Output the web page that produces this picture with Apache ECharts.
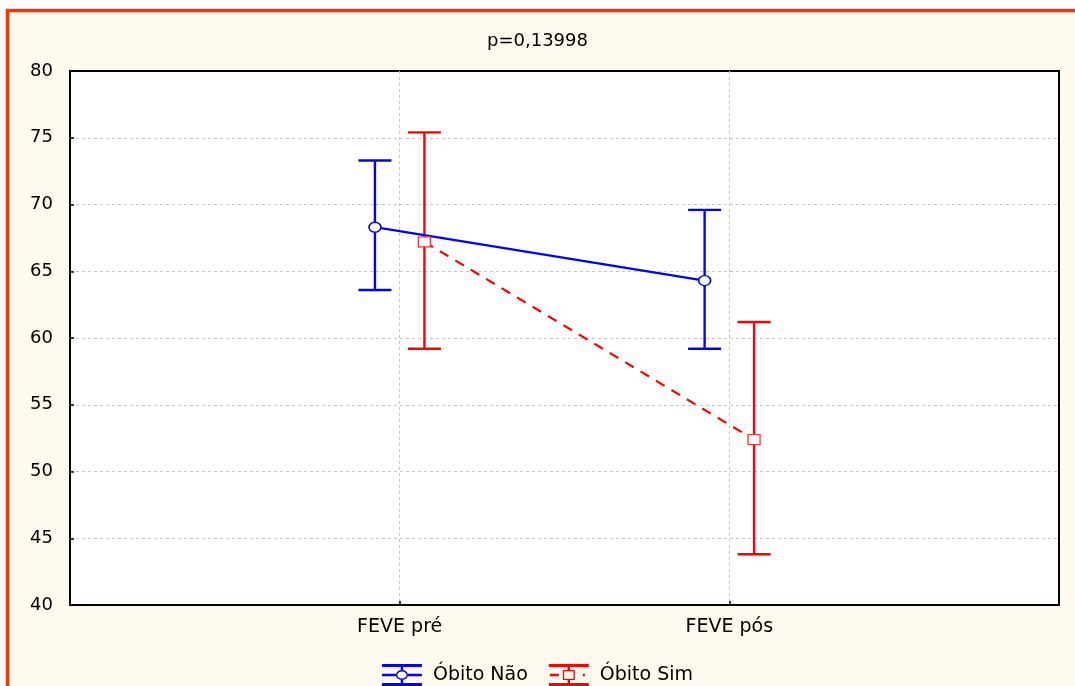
<!DOCTYPE html>
<html>
<head>
<meta charset="utf-8">
<script src="https://cdn.jsdelivr.net/npm/echarts@6/dist/echarts.min.js"></script>
<style>
  html, body { margin: 0; padding: 0; background: #ffffff; }
  #chart { width: 1075px; height: 686px; }
</style>
</head>
<body>
<div id="chart"></div>
<script>
// ---- data ----
const titleText = 'p=0,13998';
const categories = ['FEVE pré', 'FEVE pós'];
const seriesNames = ['Óbito Não', 'Óbito Sim'];
const naoMean = [68.3, 64.3];
const naoLow  = [63.6, 59.2];
const naoHigh = [73.3, 69.6];
const simMean = [67.2, 52.4];
const simLow  = [59.2, 43.8];
const simHigh = [75.4, 61.2];
const yTicks = [40, 45, 50, 55, 60, 65, 70, 75, 80];

// ---- layout / style ----
const OFFSET = 0.075;
const BLUE = '#0000ff';
const RED = '#ff0000';
const FONT = 'DejaVu Sans';

function pts(means, off) {
  return means.map((m, i) => [i + 1 + off, m]);
}
function bars(lows, highs, off) {
  return lows.map((l, i) => [i + 1 + off, l, highs[i]]);
}
function errorRender(color) {
  return function (params, api) {
    const x = api.value(0);
    const pLo = api.coord([x, api.value(1)]);
    const pHi = api.coord([x, api.value(2)]);
    const hw = 16.5;
    const st = { stroke: color, lineWidth: 2.4 };
    return {
      type: 'group',
      children: [
        { type: 'line', shape: { x1: pLo[0], y1: pLo[1], x2: pHi[0], y2: pHi[1] }, style: st },
        { type: 'line', shape: { x1: pHi[0] - hw, y1: pHi[1], x2: pHi[0] + hw, y2: pHi[1] }, style: st },
        { type: 'line', shape: { x1: pLo[0] - hw, y1: pLo[1], x2: pLo[0] + hw, y2: pLo[1] }, style: st }
      ]
    };
  };
}

const blueIcon = 'path://M0,0H40V3H0Z M0,19H40V22H0Z M18.8,3H21.2V6H18.8Z M18.8,16H21.2V19H18.8Z M0,9.8H14V12.2H0Z M26,9.8H40V12.2H26Z ' +
  'M14,11A6,5 0 1,1 26,11A6,5 0 1,1 14,11Z M15.4,11A4.6,3.6 0 1,0 24.6,11A4.6,3.6 0 1,0 15.4,11Z';
const redIcon = 'path://M0,0H40V3H0Z M0,19H40V22H0Z M18.8,3H21.2V6H18.8Z M18.8,16H21.2V19H18.8Z M1,9.8H10V12.2H1Z M34,9.8H36V12.2H34Z ' +
  'M14,6H26V16H14Z M15.3,7.3V14.7H24.7V7.3Z';

const chart = echarts.init(document.getElementById('chart'), null, { renderer: 'canvas' });

const gridLine = { show: true, showMinLine: false, showMaxLine: false,
  lineStyle: { color: '#c4c4c4', type: [3, 3], width: 1 } };

const option = {
  backgroundColor: '#ffffff',
  animation: false,
  graphic: [
    {
      type: 'rect', z: -10, silent: true,
      shape: { x: 7.5, y: 10.5, width: 1100, height: 700 },
      style: { fill: '#fffaf0', stroke: '#ff3300', lineWidth: 3.5 }
    }
  ],
  title: {
    text: titleText,
    left: 'center',
    top: 27,
    textStyle: { fontFamily: FONT, fontSize: 18, fontWeight: 'normal', color: '#000' }
  },
  grid: {
    left: 70, top: 71, right: 16, bottom: 81,
    show: true, backgroundColor: '#ffffff', borderColor: '#000', borderWidth: 2
  },
  legend: {
    data: [
      { name: seriesNames[0], icon: blueIcon, itemStyle: { color: BLUE, borderWidth: 0 } },
      { name: seriesNames[1], icon: redIcon, itemStyle: { color: RED, borderWidth: 0 } }
    ],
    top: 659,
    left: 'center',
    itemWidth: 40,
    itemHeight: 22,
    itemGap: 21,
    textStyle: { fontFamily: FONT, fontSize: 19, color: '#000', padding: [0, 0, 0, 6] }
  },
  xAxis: {
    type: 'value',
    min: 0, max: 3, interval: 1,
    axisLine: { show: false },
    axisTick: { show: true, inside: true, length: 4, lineStyle: { color: '#000', width: 1.5 } },
    axisLabel: {
      margin: 13,
      fontFamily: FONT, fontSize: 19, color: '#000',
      formatter: function (v) { return categories[v - 1] || ''; }
    },
    splitLine: gridLine
  },
  yAxis: {
    type: 'value',
    min: 40, max: 80, interval: 5,
    axisLine: { show: false },
    axisTick: { show: true, inside: true, length: 4, lineStyle: { color: '#000', width: 1.5 } },
    axisLabel: {
      margin: 17,
      fontFamily: FONT, fontSize: 18, color: '#000',
      formatter: function (v) { return yTicks.indexOf(v) >= 0 ? String(v) : ''; }
    },
    splitLine: gridLine
  },
  series: [
    {
      type: 'custom', name: 'errNao', z: 2,
      renderItem: errorRender(BLUE),
      data: bars(naoLow, naoHigh, -OFFSET),
      encode: { x: 0, y: [1, 2] }
    },
    {
      type: 'custom', name: 'errSim', z: 2,
      renderItem: errorRender(RED),
      data: bars(simLow, simHigh, OFFSET),
      encode: { x: 0, y: [1, 2] }
    },
    {
      type: 'line', name: seriesNames[0], z: 5,
      data: pts(naoMean, -OFFSET),
      color: BLUE,
      lineStyle: { color: BLUE, width: 2.2 },
      symbol: 'circle', symbolSize: [12, 10], showAllSymbol: true,
      itemStyle: { color: '#ffffff', borderColor: BLUE, borderWidth: 1.5 }
    },
    {
      type: 'line', name: seriesNames[1], z: 5,
      data: pts(simMean, OFFSET),
      color: RED,
      lineStyle: { color: RED, width: 2.2, type: [10, 8] },
      symbol: 'rect', symbolSize: [12, 10], showAllSymbol: true,
      itemStyle: { color: '#ffffff', borderColor: '#ff3030', borderWidth: 1.2 }
    }
  ]
};
chart.setOption(option);
</script>
</body>
</html>
